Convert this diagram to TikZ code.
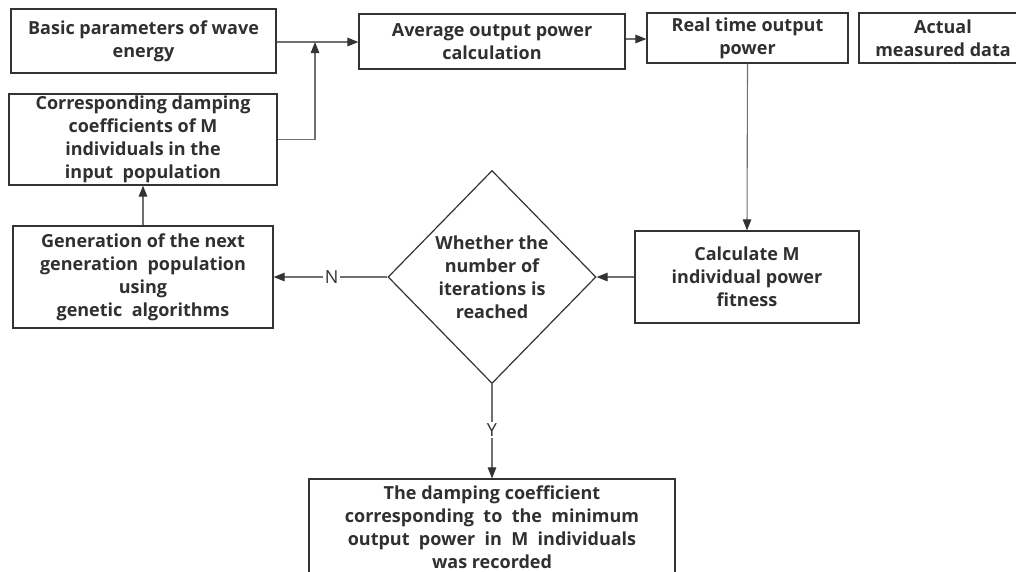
\documentclass[tikz,border=0pt]{standalone}
\usepackage{fontspec}
\setmainfont{Open Sans}
\usetikzlibrary{arrows.meta,shapes.geometric}
\definecolor{boxc}{HTML}{333333}
\definecolor{linec}{HTML}{707070}
\definecolor{txtc}{HTML}{303030}
\begin{document}
\begin{tikzpicture}[x=1pt,y=-1pt,
  box/.style={draw=boxc,line width=1.2pt,rectangle,align=center,inner sep=0pt,
    font=\bfseries\fontsize{18}{23}\selectfont,text=txtc},
  conn/.style={draw=linec,line width=1.1pt},
  arr/.style={conn,-{Triangle[length=11pt,width=8.5pt]},arrows={[color=boxc]}},
  lab/.style={font=\fontsize{18}{20}\selectfont,text=boxc,fill=white,inner sep=1.5pt}]
\useasboundingbox (0,0) rectangle (1016,571);
\fill[white] (0,0) rectangle (1016,571);

\node[box,minimum width=265,minimum height=64] (b1) at (143.5,41) {Basic parameters of wave\\energy};
\node[box,minimum width=268,minimum height=91] (b2) at (143,139.5) {Corresponding damping\\coefficients of M\\individuals in the\\input\ \ population};
\node[box,minimum width=266,minimum height=55] (b3) at (492,41.5) {Average output power\\calculation};
\node[box,minimum width=201,minimum height=50] (b4) at (747.5,38) {Real time output\\power};
\node[box,minimum width=168,minimum height=50] (b5) at (943,38) {Actual\\measured data};
\node[box,minimum width=224,minimum height=92] (calc) at (747,277) {Calculate M\\individual power\\fitness};
\node[draw=boxc,line width=1.2pt,diamond,minimum width=208,minimum height=213,inner sep=0pt,
  label={[align=center,font=\bfseries\fontsize{18}{23}\selectfont,text=txtc]center:Whether the\\number of\\iterations is\\reached}] (dec) at (492,277) {};
\node[box,minimum width=260,minimum height=102] (gen) at (143,277) {Generation of the next\\generation\ \ population\\using\\genetic\ \ algorithms};
\node[box,minimum width=366,minimum height=96] (fin) at (492,527) {The damping coefficient\\corresponding\ \ to\ \ the\ \ minimum\\output\ \ power\ \ in\ \ M\ \ individuals\\was recorded};

\coordinate (j) at (315,42);
\draw[conn] (b1.east |- j) -- (j);
\draw[arr] (j) -- (b3.west |- j);
\draw[arr] (b2.east) -| (j);
\draw[arr] (b3.east |- 0,39) -- (b4.west |- 0,39);
\draw[arr] (b4.south) -- (calc.north);
\draw[arr] (calc.west) -- (dec.east);
\draw[arr] (dec.west) -- node[lab,pos=0.49]{N} (gen.east);
\draw[arr] (gen.north) -- (b2.south);
\draw[arr] (dec.south) -- node[lab,pos=0.49]{Y} (fin.north);
\end{tikzpicture}
\end{document}
